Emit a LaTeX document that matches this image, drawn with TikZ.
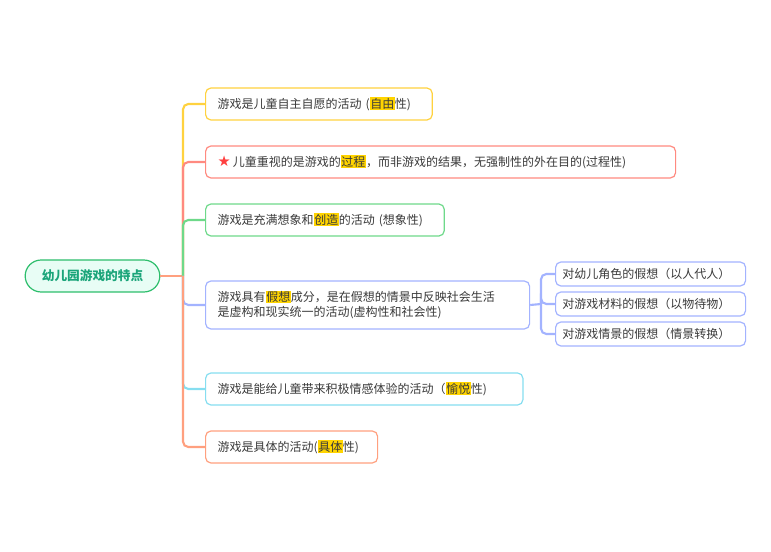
\documentclass[tikz,border=0pt]{standalone}
\usepackage{fontspec}
\setmainfont{Noto Sans CJK SC}
\newfontfamily\symfont{DejaVu Sans}
\usepackage{xcolor}
\definecolor{txt}{HTML}{3A3A3A}
\definecolor{hl}{HTML}{FFD400}
\definecolor{cY}{HTML}{FFD23F}
\definecolor{cR}{HTML}{FF8A80}
\definecolor{cG}{HTML}{6ED98A}
\definecolor{cB}{HTML}{A3B3FF}
\definecolor{cC}{HTML}{86DEF0}
\definecolor{cO}{HTML}{FFA07F}
\definecolor{rootb}{HTML}{2DBE6C}
\definecolor{rootf}{HTML}{E8FDF5}
\definecolor{roott}{HTML}{1BA57A}
\newcommand{\hlt}[1]{{\setlength{\fboxsep}{0.5pt}\colorbox{hl}{#1}}}
\begin{document}
\begin{tikzpicture}[x=0.75pt,y=-0.75pt,
  box/.style 2 args={draw=#1,line width=0.9pt,rounded corners=4pt,fill=white,anchor=west,
     inner xsep=9pt,inner ysep=0pt,text width=#2-18pt,align=left,text=txt,
     font=\fontsize{9}{11.5}\selectfont},
  sub/.style={draw=cB,line width=0.9pt,rounded corners=4pt,fill=white,anchor=west,
     inner xsep=5pt,inner ysep=0pt,text width=132.5pt,minimum height=18pt,align=left,text=txt,
     font=\fontsize{9}{11.5}\selectfont},
  link/.style={draw=#1,line width=1.6pt,rounded corners=4pt}]
\useasboundingbox (0,0) rectangle (771,552);
\node[draw=rootb,fill=rootf,line width=0.9pt,rounded corners=12pt,minimum width=101pt,minimum height=24pt,
  text=roott,font=\fontsize{9.5}{12}\selectfont\bfseries] (root) at (92.5,276) {幼儿园游戏的特点};
\coordinate (j) at (183,276);
\node[box={cY}{170pt},minimum height=24pt] (b1) at (205,104) {游戏是儿童自主自愿的活动 (\hlt{自由}性)};
\node[box={cR}{352.5pt},minimum height=24pt] (b2) at (205,162) {{\symfont\fontsize{11}{11}\selectfont\color{red!75}★}\,儿童重视的是游戏的\hlt{过程}，而非游戏的结果，无强制性的外在目的(过程性)};
\node[box={cG}{179pt},minimum height=24pt] (b3) at (205,220) {游戏是充满想象和\hlt{创造}的活动 (想象性)};
\node[box={cB}{243pt},minimum height=36pt] (b4) at (205,305) {游戏具有\hlt{假想}成分，是在假想的情景中反映社会生活\\是虚构和现实统一的活动(虚构性和社会性)};
\node[box={cC}{238pt},minimum height=24pt] (b5) at (205,389) {游戏是能给儿童带来积极情感体验的活动（\hlt{愉悦}性)};
\node[box={cO}{129pt},minimum height=24pt] (b6) at (205,447) {游戏是具体的活动(\hlt{具体}性)};
\node[sub] (s1) at (555,274) {对幼儿角色的假想（以人代人）};
\node[sub] (s2) at (555,304) {对游戏材料的假想（以物待物）};
\node[sub] (s3) at (555,334) {对游戏情景的假想（情景转换）};
\coordinate (k) at (541,304);
\draw[link=cO] (root.east) -- (j);
\draw[link=cY] (j) |- (b1.west);
\draw[link=cR] (j) |- (b2.west);
\draw[link=cG] (j) |- (b3.west);
\draw[link=cB] (j) |- (b4.west);
\draw[link=cC] (j) |- (b5.west);
\draw[link=cO] (j) |- (b6.west);
\draw[link=cB] (b4.east) -- (k);
\draw[link=cB] (k) |- (s1.west);
\draw[link=cB] (k) |- (s2.west);
\draw[link=cB] (k) |- (s3.west);
\end{tikzpicture}
\end{document}
